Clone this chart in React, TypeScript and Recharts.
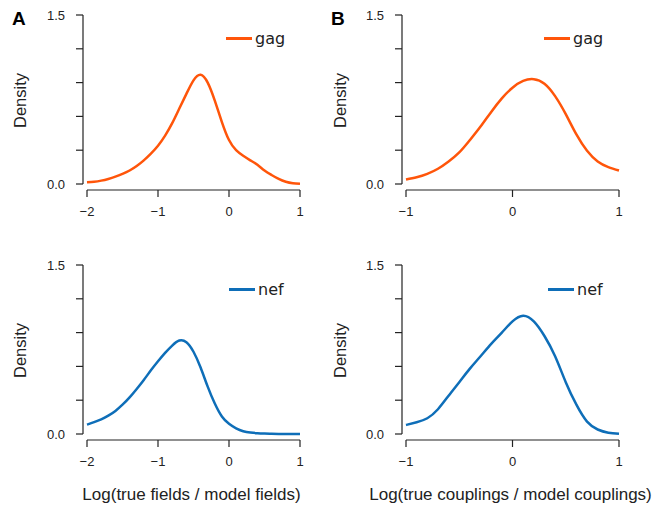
import { LineChart, Line, XAxis, YAxis, Legend } from "recharts";

// x grids
const fieldX = [
  -2.0, -1.9, -1.8, -1.7, -1.6, -1.5, -1.4, -1.3, -1.2, -1.1, -1.0, -0.9, -0.8, -0.7, -0.6, -0.5,
  -0.4, -0.3, -0.2, -0.1, 0.0, 0.1, 0.2, 0.3, 0.4, 0.5, 0.6, 0.7, 0.8, 0.9, 1.0,
];
const couplingX = [
  -1.0, -0.9, -0.8, -0.7, -0.6, -0.5, -0.4, -0.3, -0.2, -0.1, 0.0, 0.1, 0.2, 0.3, 0.4, 0.5, 0.6,
  0.7, 0.8, 0.9, 1.0,
];

// densities
const gagFields = [
  0.015, 0.02, 0.03, 0.045, 0.065, 0.09, 0.12, 0.16, 0.21, 0.27, 0.34, 0.43, 0.54, 0.67, 0.8, 0.92,
  0.97, 0.9, 0.74, 0.55, 0.39, 0.3, 0.25, 0.21, 0.17, 0.12, 0.08, 0.045, 0.02, 0.007, 0.002,
];
const nefFields = [
  0.083, 0.105, 0.13, 0.163, 0.205, 0.26, 0.325, 0.4, 0.48, 0.565, 0.645, 0.72, 0.785, 0.83, 0.815, 0.73,
  0.59, 0.42, 0.27, 0.155, 0.09, 0.05, 0.025, 0.013, 0.007, 0.004, 0.002, 0.001, 0.001, 0.0005, 0.0,
];
const gagCouplings = [
  0.04, 0.06, 0.09, 0.135, 0.2, 0.28, 0.39, 0.51, 0.64, 0.76, 0.855, 0.915, 0.93, 0.89, 0.78, 0.62,
  0.44, 0.295, 0.2, 0.15, 0.12,
];
const nefCouplings = [
  0.08, 0.105, 0.14, 0.22, 0.34, 0.46, 0.58, 0.69, 0.8, 0.9, 1.0, 1.05, 1.0, 0.87, 0.69, 0.46,
  0.26, 0.11, 0.04, 0.012, 0.002,
];

const yTicks = [0, 0.3, 0.6, 0.9, 1.2, 1.5];
const fieldTicks = [-2, -1, 0, 1];
const couplingTicks = [-1, 0, 1];

const ORANGE = "#FF550A";
const BLUE = "#0E6EB8";
const INK = "#222";
const SANS = "'Liberation Sans', Arial, sans-serif";

const fmtY = (v: number) => (v === 0 ? "0.0" : v === 1.5 ? "1.5" : "");
const fmtX = (v: number) => (v < 0 ? `\u2212${Math.abs(v)}` : String(v));

const LegendKey = ({ payload }: any) => {
  const item = payload?.[0];
  if (!item) return null;
  return (
    <div
      style={{
        display: "flex",
        alignItems: "center",
        fontFamily: "'DejaVu Sans', sans-serif",
        fontSize: 16,
        color: INK,
        whiteSpace: "nowrap",
      }}
    >
      <span style={{ display: "inline-block", width: 26, height: 2.5, background: item.color, marginRight: 3 }} />
      <span>{item.value}</span>
    </div>
  );
};

type PanelProps = {
  left: number;
  top: number;
  width: number;
  height: number;
  axisWidth: number;
  xs: number[];
  ys: number[];
  name: string;
  color: string;
  xTicks: number[];
  title?: string;
  legendLeft: number;
  legendTop: number;
};

function Panel({ left, top, width, height, axisWidth, xs, ys, name, color, xTicks, title, legendLeft, legendTop }: PanelProps) {
  const rows = xs.map((x, i) => ({ x, y: ys[i] }));
  return (
    <div style={{ position: "absolute", left, top }}>
      <LineChart
        width={width}
        height={height}
        data={rows}
        margin={{ top: 15, right: width - axisWidth - 217, bottom: 0, left: 0 }}
      >
        <XAxis
          dataKey="x"
          type="number"
          domain={[xTicks[0], xTicks[xTicks.length - 1]]}
          ticks={xTicks}
          tickFormatter={fmtX}
          padding={{ left: 4, right: 0 }}
          height={height - 190}
          tickSize={7}
          tickMargin={10}
          stroke={INK}
          axisLine={{ stroke: INK, strokeWidth: 1.2, strokeDasharray: "0 4 400" }}
          tickLine={{ stroke: INK, strokeWidth: 1.2 }}
          tick={{ fontSize: 13, fill: INK, fontFamily: SANS }}
          label={
            title
              ? { value: title, position: "insideBottom", offset: 8, fontSize: 17, fill: INK, fontFamily: SANS }
              : undefined
          }
        />
        <YAxis
          type="number"
          domain={[0, 1.5]}
          ticks={yTicks}
          tickFormatter={fmtY}
          padding={{ top: 0, bottom: 6 }}
          width={axisWidth}
          tickSize={7}
          tickMargin={11}
          axisLine={{ stroke: INK, strokeWidth: 1.2, strokeDasharray: "169 40" }}
          tickLine={{ stroke: INK, strokeWidth: 1.2 }}
          tick={{ fontSize: 13, fill: INK, fontFamily: SANS }}
          label={{ value: "Density", angle: -90, position: "center", dx: -21, dy: -2, fontSize: 16.5, fill: INK, fontFamily: SANS }}
        />
        <Legend
          layout="vertical"
          align="center"
          verticalAlign="middle"
          content={<LegendKey />}
          wrapperStyle={{ left: legendLeft, top: legendTop, width: "auto" }}
        />
        <Line
          type="natural"
          dataKey="y"
          name={name}
          stroke={color}
          strokeWidth={2.5}
          dot={false}
          activeDot={false}
          isAnimationActive={false}
        />
      </LineChart>
    </div>
  );
}

const letterStyle = {
  position: "absolute" as const,
  top: 9,
  fontFamily: SANS,
  fontWeight: 700,
  fontSize: 19,
  lineHeight: "19px",
  color: "#000",
};

export default function App() {
  return (
    <div
      style={{
        position: "absolute",
        left: 0,
        top: 0,
        width: 655,
        height: 508,
        background: "#fff",
        fontFamily: SANS,
        overflow: "hidden",
      }}
    >
      <Panel left={0} top={0} width={320} height={250} axisWidth={83} xs={fieldX} ys={gagFields} name="gag" color={ORANGE}
        xTicks={fieldTicks} legendLeft={226} legendTop={29} />
      <Panel left={320} top={0} width={335} height={250} axisWidth={82} xs={couplingX} ys={gagCouplings} name="gag" color={ORANGE}
        xTicks={couplingTicks} legendLeft={224} legendTop={29} />
      <Panel left={0} top={250} width={320} height={258} axisWidth={83} xs={fieldX} ys={nefFields} name="nef" color={BLUE}
        xTicks={fieldTicks} title="Log(true fields / model fields)" legendLeft={229} legendTop={30} />
      <Panel left={320} top={250} width={335} height={258} axisWidth={82} xs={couplingX} ys={nefCouplings} name="nef" color={BLUE}
        xTicks={couplingTicks} title="Log(true couplings / model couplings)" legendLeft={228} legendTop={30} />
      <div style={{ ...letterStyle, left: 12 }}>A</div>
      <div style={{ ...letterStyle, left: 331 }}>B</div>
    </div>
  );
}
